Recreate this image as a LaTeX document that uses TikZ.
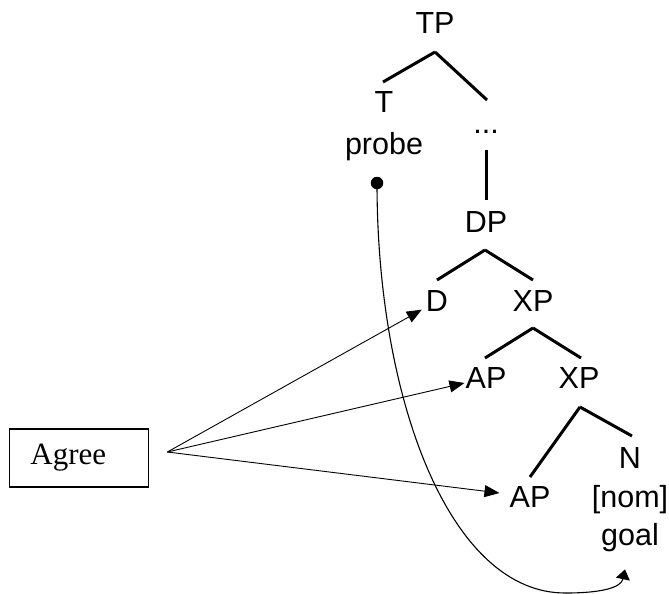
\documentclass[tikz,border=0pt]{standalone}
\usepackage{fontspec}
\setmainfont{Liberation Sans}
\newfontfamily\agreefont{Liberation Serif}
\usetikzlibrary{
  arrows.meta,
  calc,
  positioning
}
\tikzset{
  cat/.style={inner sep=0pt,font=\fontsize{30.5}{36}\selectfont},
  branch/.style={line width=3pt},
  agreebox/.style={draw,line width=1.7pt,minimum width=139pt,minimum height=58pt,
    text width=97pt,inner xsep=21pt,align=left,
    font=\agreefont\fontsize{31}{36}\selectfont},
  agreeflow/.style={-{Triangle[length=15pt,width=12pt]},line width=0.9pt},
  probeflow/.style={-{Triangle[length=10pt,width=14pt]},line width=1.1pt},
  probedot/.style={circle,fill,inner sep=0pt,minimum size=12.5pt}
}

\begin{document}
\begin{tikzpicture}[x=1pt,y=-1pt]
  \useasboundingbox (0,0) rectangle (669,594);
  % the tree
  \node[cat] (TP) at (435,23) {TP};
  \node[cat] (T) at (384,102) {T};
  \node[cat,below=20pt of T] (probe) {probe};
  \node[cat] (dots) at (486,132) {...};
  \node[cat] (DP) at (486,222) {DP};
  \node[cat] (D) at (437,301) {D};
  \node[cat] (XP1) at (533,301) {XP};
  \node[cat] (AP1) at (486,378) {AP};
  \node[cat] (XP2) at (579,378) {XP};
  \node[cat] (AP2) at (530,497) {AP};
  \node[cat] (N) at (630,458) {N};
  \node[cat,below=17pt of N] (nom) {[nom]};
  \node[cat,below=9pt of nom] (goal) {goal};
  \draw[branch] ($(TP)+(0,29)$) -- ($(T)+(-1,-20)$);
  \draw[branch] ($(TP)+(0,29)$) -- ($(dots)+(1,-32)$);
  \draw[branch] ($(dots)+(0,18)$) -- ($(DP)+(0,-22)$);
  \draw[branch] ($(DP)+(-1,28)$) -- ($(D)+(0,-21)$);
  \draw[branch] ($(DP)+(-1,28)$) -- ($(XP1)+(0,-21)$);
  \draw[branch] ($(XP1)+(0,27)$) -- ($(AP1)+(-1,-20)$);
  \draw[branch] ($(XP1)+(0,27)$) -- ($(XP2)+(2,-20)$);
  \draw[branch] ($(XP2)+(1,29)$) -- ($(AP2)+(0,-20)$);
  \draw[branch] ($(XP2)+(1,29)$) -- ($(N)+(2,-22)$);
  % agree arrows
  \node[agreebox] (agree) at (79,458) {Agree};
  \coordinate (agreeout) at ($(agree.east)+(18,-6)$);
  \draw[agreeflow] (agreeout) -- ($(D.south west)+(-4,-2)$);
  \draw[agreeflow] (agreeout) -- ($(AP1.west)+(-1,5)$);
  \draw[agreeflow] (agreeout) -- ($(AP2.west)+(-10,-4)$);
  % probe to goal
  \node[probedot] (pdot) at (377,183) {};
  \draw[probeflow] (pdot.center) .. controls (377,400) and (450,594) .. (566,593)
    .. controls (600,593) and (621,588) .. ($(goal.south)+(-5,17)$);
\end{tikzpicture}
\end{document}
